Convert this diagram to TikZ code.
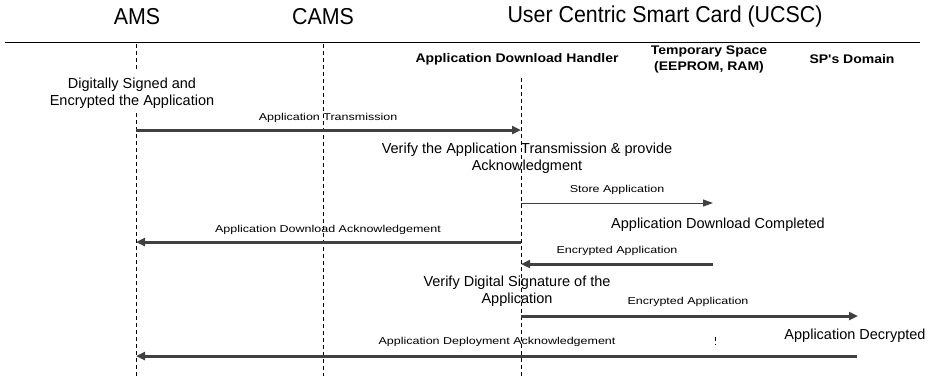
\documentclass[tikz,border=0pt]{standalone}
\usepackage{fontspec}
\setmainfont{Liberation Sans}
\newfontfamily\titlefont[FakeStretch=0.93]{Liberation Sans}
\newfontfamily\headfont[FakeStretch=1.12]{Liberation Sans}
\newfontfamily\msgfont[FakeStretch=1.25]{Liberation Sans}
\usetikzlibrary{arrows.meta}
\definecolor{linegray}{HTML}{404040}
\begin{document}
\begin{tikzpicture}[x=1pt,y=-1pt,
  title/.style={font=\titlefont\fontsize{23}{26}\selectfont, inner sep=0pt},
  head/.style={font=\headfont\bfseries\fontsize{12.5}{16}\selectfont, align=center, inner sep=0pt},
  note/.style={font=\fontsize{14.5}{17}\selectfont, align=center, inner sep=0pt},
  msglabel/.style={font=\msgfont\fontsize{10}{12}\selectfont, inner sep=0pt},
  lifeline/.style={draw=black, line width=0.8pt, dash pattern=on 4pt off 3pt},
  msg/.style={draw=linegray, line width=3pt, -{Triangle[length=9pt,width=8pt]}},
  thinmsg/.style={draw=linegray, line width=1pt, -{Triangle[length=10pt,width=7pt]}},
  rule/.style={draw=black, line width=1pt}
]
\path[use as bounding box] (0,0) rectangle (933,376);

% titles
\node[title] (tAMS) at (137,17) {AMS};
\node[title] (tCAMS) at (323,17) {CAMS};
\node[title] (tUCSC) at (665,17) {User Centric Smart Card (UCSC)};

% rule
\coordinate (ruleL) at (5,42);
\coordinate (ruleR) at (920,42);
\draw[rule] (ruleL) -- (ruleR);

% column headings
\node[head] (hADH) at (517,59) {Application Download Handler};
\node[head] (hTS) at (709,59) {Temporary Space\\(EEPROM, RAM)};
\node[head] (hSP) at (852,59) {SP's Domain};

% lifelines
\coordinate (amsTop) at (136,44);
\coordinate (amsA) at (136,70);
\coordinate (amsB) at (136,113);
\coordinate (amsBot) at (136,376);
\coordinate (camsTop) at (323,44);
\coordinate (camsBot) at (323,376);
\coordinate (adhTop) at (521,78);
\coordinate (adhBot) at (521,376);
\coordinate (tsA) at (715,337);
\coordinate (tsB) at (715,345);
\draw[lifeline] (amsTop) -- (amsA);
\draw[lifeline] (amsB) -- (amsBot);
\draw[lifeline] (camsTop) -- (camsBot);
\draw[lifeline] (adhTop) -- (adhBot);
\draw[lifeline] (tsA) -- (tsB);

% notes
\node[note] (nSign) at (132,93) {Digitally Signed and\\Encrypted the Application};
\node[note] (nVerify1) at (527,158) {Verify the Application Transmission \& provide\\Acknowledgment};
\node[note] (nDone) at (718,225) {Application Download Completed};
\node[note] (nVerify2) at (517,291) {Verify Digital Signature of the\\Application};
\node[note] (nDecr) at (855,336) {Application Decrypted};

% messages
\coordinate (m1s) at (136,130);
\coordinate (m1e) at (521,130);
\draw[msg] (m1s) -- (m1e);
\node[msglabel] (l1) at (328,118) {Application Transmission};

\coordinate (m2s) at (521,203);
\coordinate (m2e) at (713,203);
\draw[thinmsg] (m2s) -- (m2e);
\node[msglabel] (l2) at (617,190) {Store Application};

\coordinate (m3s) at (521,242);
\coordinate (m3e) at (136,242);
\draw[msg] (m3s) -- (m3e);
\node[msglabel] (l3) at (328,230) {Application Download Acknowledgement};

\coordinate (m4s) at (713,264);
\coordinate (m4e) at (521,264);
\draw[msg] (m4s) -- (m4e);
\node[msglabel] (l4) at (617,251) {Encrypted Application};

\coordinate (m5s) at (521,316);
\coordinate (m5e) at (858,316);
\draw[msg] (m5s) -- (m5e);
\node[msglabel] (l5) at (688,302) {Encrypted Application};

\coordinate (m6s) at (857,356);
\coordinate (m6e) at (136,356);
\draw[msg] (m6s) -- (m6e);
\node[msglabel] (l6) at (497,342) {Application Deployment Acknowledgement};
\end{tikzpicture}
\end{document}
